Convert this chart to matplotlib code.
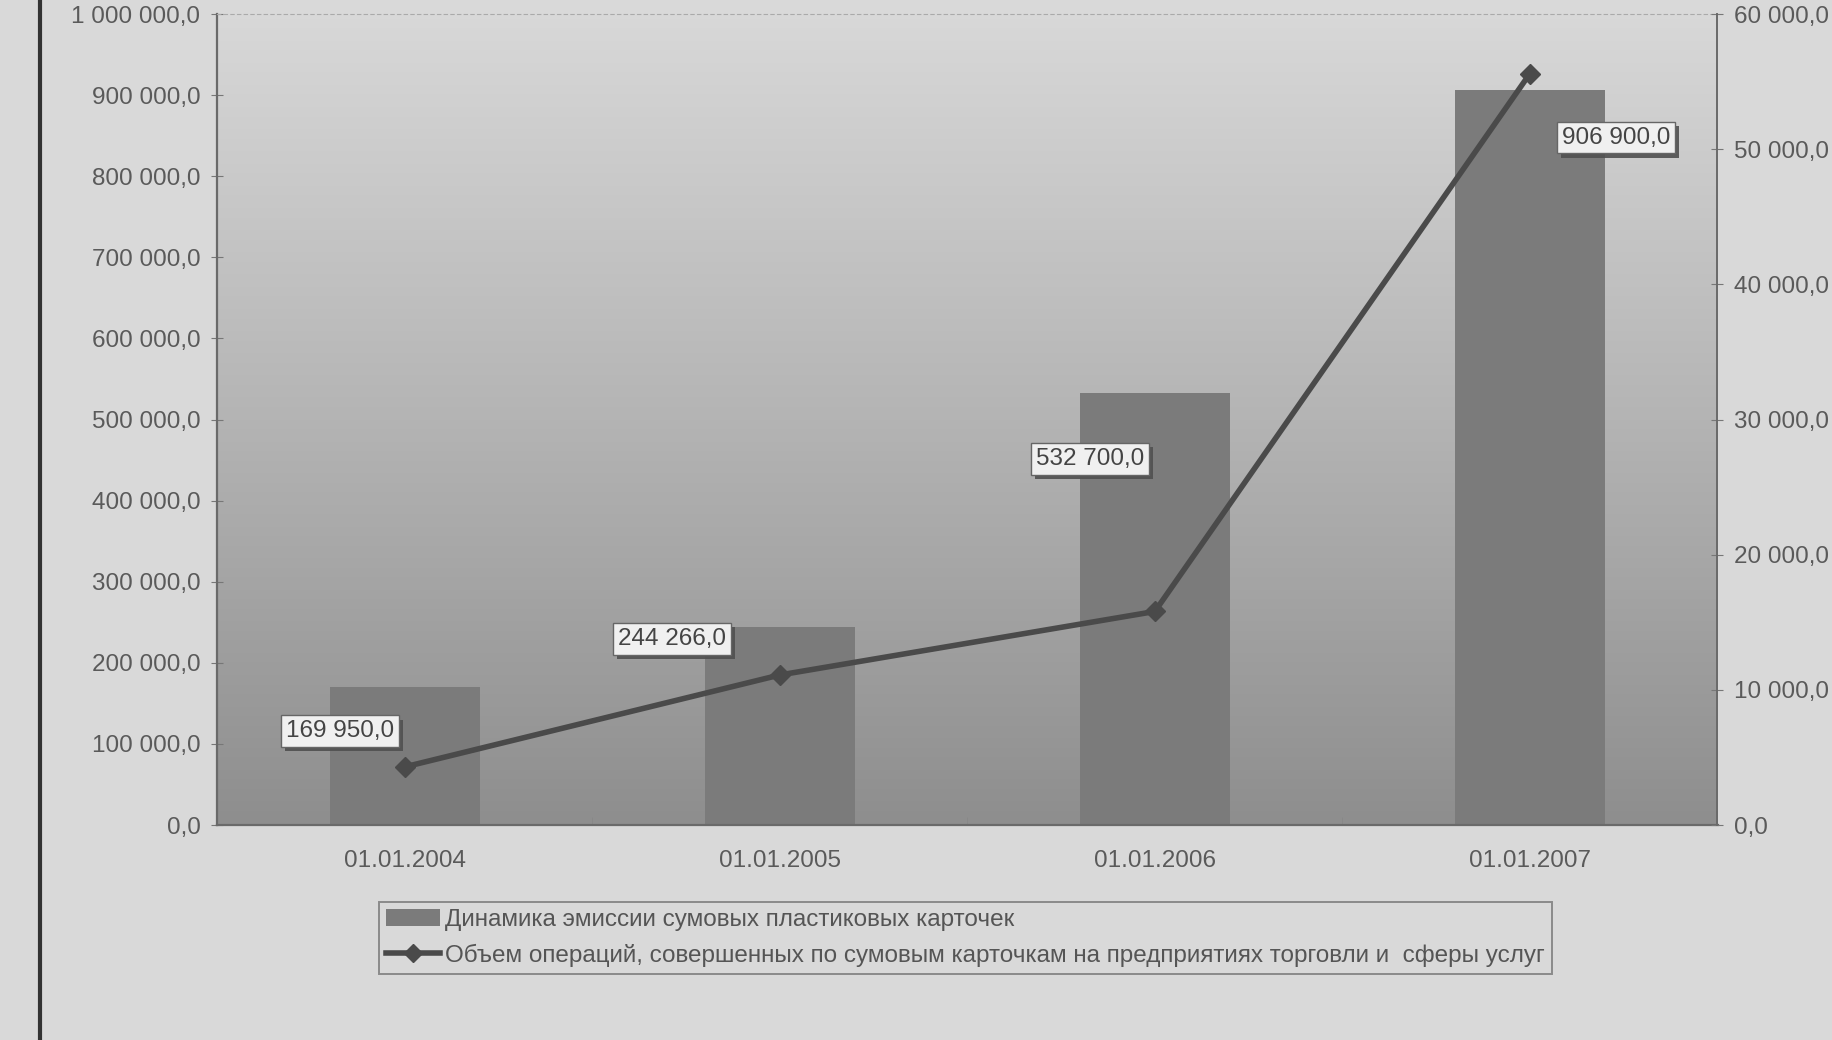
import numpy as np
import matplotlib.pyplot as plt
import matplotlib.patheffects as pe
from matplotlib.lines import Line2D
from matplotlib.patches import Patch
from matplotlib.colors import LinearSegmentedColormap
from matplotlib.ticker import FuncFormatter, FixedLocator

plt.rcParams['font.family'] = ['Liberation Sans', 'DejaVu Sans']

# data
dates = ['01.01.2004', '01.01.2005', '01.01.2006', '01.01.2007']
emission = [169950.0, 244266.0, 532700.0, 906900.0]
volume = [4300.0, 11100.0, 15800.0, 55600.0]
bar_label = 'Динамика эмиссии сумовых пластиковых карточек'
line_label = 'Объем операций, совершенных по сумовым карточкам на предприятиях торговли и  сферы услуг'

# label offsets (pixels) from bar tops
offsets = [(-65, -44), (-108, -12), (-65, -66), (86, -48)]

paper = '#d9d9d9'
bar_col = '#7b7b7b'
line_col = '#4a4a4a'
txt = '#5a5a5a'
fs = 17.5


def fmt(v, pos=None):
    s = f'{v:,.1f}'.replace(',', ' ').replace('.', ',')
    return s


fig = plt.figure(figsize=(18.32, 10.4), dpi=100, facecolor=paper)
ax = fig.add_axes([0.1185, 0.2067, 0.819, 0.7798])
ax.set_facecolor('none')

# vertical gradient of the plot area
cm = LinearSegmentedColormap.from_list('bg', ['#8e8e8e', '#b4b4b4', '#d8d8d8'])
grad = np.linspace(0, 1, 256).reshape(-1, 1)
ax.imshow(grad, cmap=cm, aspect='auto', extent=[-0.5, 3.5, 0, 1e6],
          origin='lower', zorder=0, interpolation='bilinear')

x = np.arange(len(dates))
bars = ax.bar(x, emission, width=0.4, color=bar_col, zorder=2)
ax.set_xlim(-0.5, 3.5)
ax.set_ylim(0, 1e6)
ax.set_yticks(np.arange(0, 1e6 + 1, 1e5))
ax.yaxis.set_major_formatter(FuncFormatter(fmt))
ax.set_xticks(x)
ax.set_xticklabels(dates)
ax.xaxis.set_minor_locator(FixedLocator([0.5, 1.5, 2.5]))
ax.tick_params(axis='x', which='major', length=0, pad=18, labelsize=fs, labelcolor=txt)
ax.tick_params(axis='x', which='minor', length=6, color='#888888', direction='in')
ax.tick_params(axis='y', length=8, direction='inout', color='#777777', pad=8,
               labelsize=fs, labelcolor=txt)

for s in ['left', 'bottom']:
    ax.spines[s].set_color('#6a6a6a')
    ax.spines[s].set_linewidth(1.6)
ax.spines['top'].set_color('#aaaaaa')
ax.spines['top'].set_linestyle((0, (3, 3)))
ax.spines['right'].set_visible(False)

ax2 = ax.twinx()
ax2.set_ylim(0, 60000)
ax2.set_yticks(np.arange(0, 60001, 10000))
ax2.yaxis.set_major_formatter(FuncFormatter(fmt))
ax2.tick_params(axis='y', length=8, direction='inout', color='#777777', pad=8,
                labelsize=fs, labelcolor=txt)
ax2.spines['right'].set_color('#6a6a6a')
ax2.spines['right'].set_linewidth(1.4)
for s in ['left', 'top', 'bottom']:
    ax2.spines[s].set_visible(False)
ax2.plot(x, volume, color=line_col, lw=4, marker='D', ms=10, zorder=3)

for xi, v, (dx, dy) in zip(x, emission, offsets):
    t = ax2.annotate(fmt(v), xy=(xi, v * 0.06), xytext=(dx, dy),
                     textcoords='offset pixels', ha='center', va='center',
                     fontsize=fs, color='#444444', zorder=5,
                     bbox=dict(boxstyle='square,pad=0.2', fc='#f0f0f0', ec='#666666', lw=1.0))
    t.get_bbox_patch().set_path_effects(
        [pe.SimplePatchShadow(offset=(3, -3), shadow_rgbFace='#505050', alpha=0.9), pe.Normal()])

handles = [Patch(facecolor=bar_col, edgecolor='none'),
           Line2D([0], [0], color=line_col, lw=4, marker='D', ms=9)]
leg = fig.legend(handles, [bar_label, line_label], loc='center',
                 bbox_to_anchor=(0.527, 0.098), fontsize=fs, frameon=True,
                 fancybox=False, edgecolor='#777777', facecolor=paper,
                 handlelength=2.2, handletextpad=0.2, borderpad=0.3,
                 labelspacing=0.5, alignment='left')
leg.get_frame().set_linewidth(1.4)
for t in leg.get_texts():
    t.set_color('#555555')

# page edge line at the left
fig.add_artist(Line2D([0.022, 0.022], [0, 1], color='#333333', lw=3,
                      transform=fig.transFigure))

fig.savefig('out.png', dpi=100, facecolor=paper)
